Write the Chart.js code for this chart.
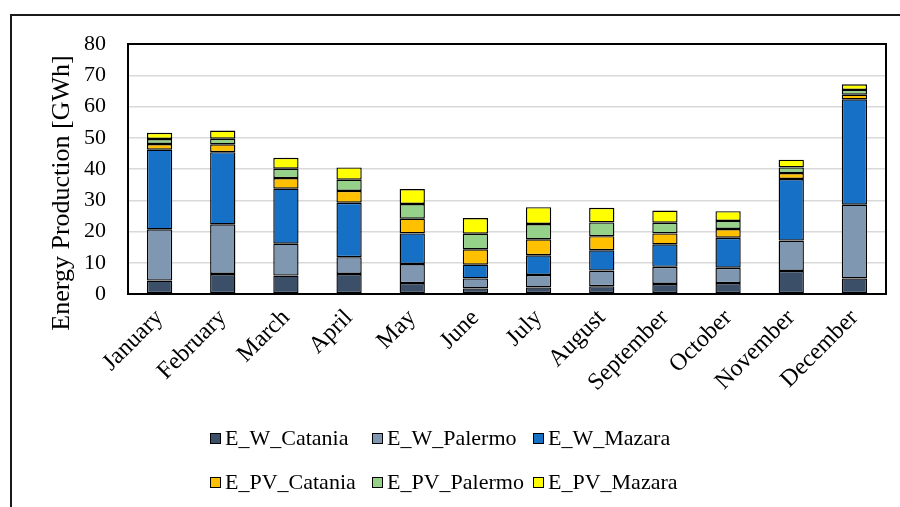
<!DOCTYPE html>
<html>
<head>
<meta charset="utf-8">
<script src="https://cdn.jsdelivr.net/npm/chart.js@4"></script>
<style>
  html, body { margin: 0; padding: 0; overflow: hidden; background: #fff; }
  #wrap { position: relative; width: 900px; height: 507px; }
  #frame { position: absolute; left: 10px; top: 14px; width: 1000px; height: 600px; border: 2px solid #1a1a1a; }
  #grafico { position: absolute; left: 0; top: 0; }
  .leg { position: absolute; font-family: "Liberation Serif", "Times New Roman", serif; font-size: 22px; color: #000; white-space: nowrap; line-height: 22px; }
  .leg span.box { display: inline-block; width: 9px; height: 9px; border: 1.5px solid #000; margin-right: 4px; vertical-align: 1px; }
</style>
</head>
<body>
<div id="wrap">
  <div id="frame"></div>
  <canvas id="grafico" width="900" height="507"></canvas>
  <div id="legenda"></div>
</div>
<script>
// dati (GWh)
let mesi = ["January", "February", "March", "April", "May", "June", "July", "August", "September", "October", "November", "December"];
let serie = ["E_W_Catania", "E_W_Palermo", "E_W_Mazara", "E_PV_Catania", "E_PV_Palermo", "E_PV_Mazara"];
let wCatania = [4.3, 6.4, 5.9, 6.4, 3.5, 1.8, 2.1, 2.5, 3.2, 3.5, 7.4, 5.0];
let wPalermo = [16.4, 15.9, 10.2, 5.4, 6.1, 3.2, 4.0, 5.0, 5.5, 4.9, 9.7, 23.6];
let wMazara = [25.5, 23.1, 17.6, 17.4, 9.8, 4.4, 6.3, 6.5, 7.2, 9.6, 19.7, 33.7];
let pvCatania = [1.8, 2.5, 3.4, 3.8, 4.7, 4.9, 5.1, 4.5, 3.5, 2.8, 1.9, 1.5];
let pvPalermo = [1.6, 1.8, 3.0, 3.6, 4.7, 5.0, 4.9, 4.4, 3.4, 2.6, 1.8, 1.5];
let pvMazara = [2.0, 2.6, 3.5, 3.9, 4.8, 5.0, 5.4, 4.7, 3.9, 3.1, 2.5, 1.8];
let titoloY = "Energy Production [GWh]";

let colori = ["#3b4f68", "#7f97b1", "#1670c6", "#ffc000", "#96d18a", "#ffff00"];
let valori = [wCatania, wPalermo, wMazara, pvCatania, pvPalermo, pvMazara];
let font = "'Liberation Serif', 'Times New Roman', serif";

let datasets = serie.map((nome, i) => ({
    label: nome,
    data: valori[i],
    backgroundColor: colori[i],
    borderColor: "#000",
    borderWidth: 1.4,
    borderSkipped: false,
    categoryPercentage: 0.8,
    barPercentage: 0.5
}));

// cornice nera attorno all'area del grafico + titolo asse y
let cornice = {
    id: "cornice",
    afterDraw(chart) {
        let a = chart.chartArea;
        let ctx = chart.ctx;
        ctx.save();
        ctx.strokeStyle = "#000";
        ctx.lineWidth = 2;
        ctx.strokeRect(a.left, a.top, a.right - a.left, a.bottom - a.top);
        // titolo asse y (un po' piu in basso del centro, come nell'originale)
        ctx.translate(69, 193);
        ctx.rotate(-Math.PI / 2);
        ctx.fillStyle = "#000";
        ctx.font = "26px " + font;
        ctx.textAlign = "center";
        ctx.textBaseline = "alphabetic";
        ctx.fillText(titoloY, 0, 0);
        ctx.restore();
    }
};

let chart = new Chart("grafico", {
    type: "bar",
    data: { labels: mesi, datasets: datasets },
    plugins: [cornice],
    options: {
        responsive: false,
        animation: false,
        layout: { padding: { left: 40, right: 14, top: 44, bottom: 93 } },
        plugins: { legend: { display: false }, tooltip: { enabled: false } },
        scales: {
            x: {
                stacked: true,
                grid: { display: false },
                border: { display: false },
                ticks: { color: "#000", font: { family: font, size: 24 }, minRotation: 45, maxRotation: 45, padding: 2 },
                afterFit: s => { s.height = 120; }
            },
            y: {
                stacked: true,
                min: 0,
                max: 80,
                ticks: { stepSize: 10, color: "#000", font: { family: font, size: 22 }, padding: 22 },
                grid: { color: "#d9d9d9", lineWidth: 1.5, drawTicks: false },
                border: { display: false },
                afterFit: s => { s.width = 88; }
            }
        }
    }
});

// legenda in HTML, 3 voci per riga
let legenda = document.getElementById("legenda");
let colonne = [210, 372, 533];
let righe = [427, 471];
serie.forEach((nome, i) => {
    let div = document.createElement("div");
    div.className = "leg";
    div.style.left = colonne[i % 3] + "px";
    div.style.top = righe[Math.floor(i / 3)] + "px";
    div.innerHTML = '<span class="box" style="background:' + colori[i] + '"></span>' + nome;
    legenda.appendChild(div);
});
</script>
</body>
</html>
